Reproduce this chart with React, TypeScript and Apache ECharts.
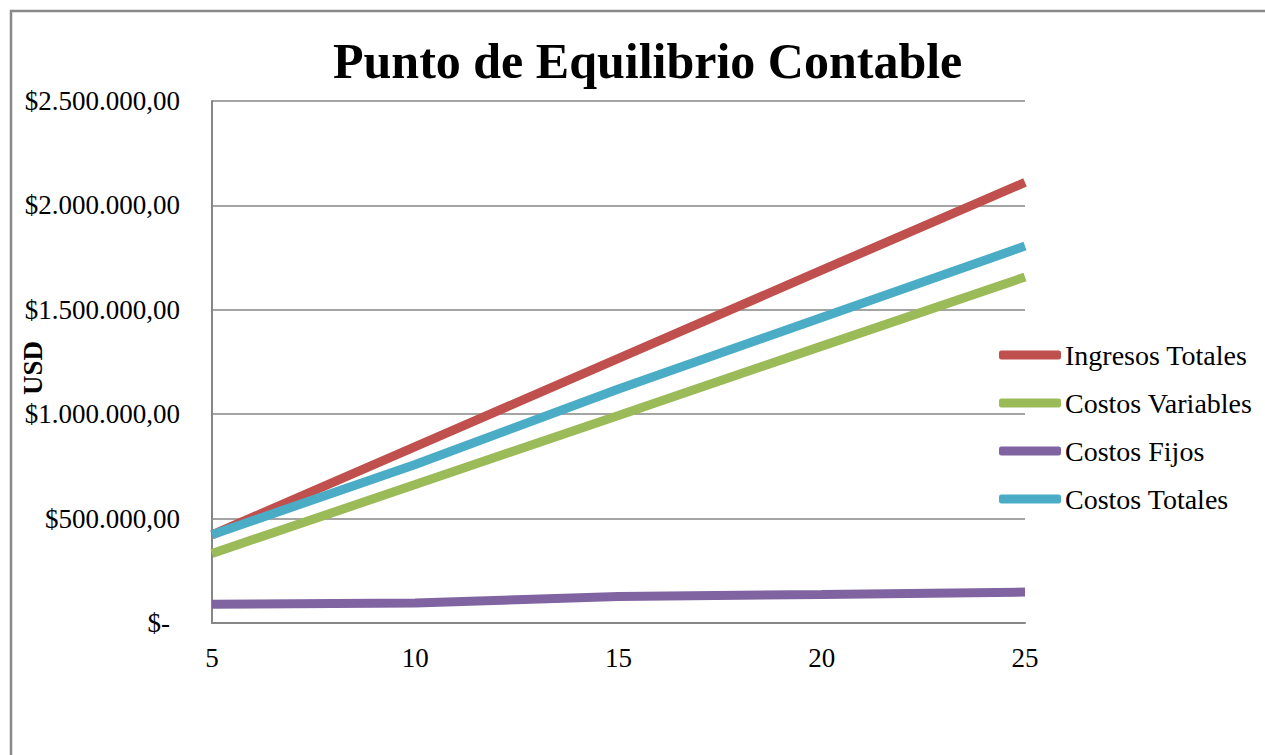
import React, { useEffect, useRef } from "react";
import * as echarts from "echarts";

const categories = ["5", "10", "15", "20", "25"];
const ingresosTotales = [422000, 845000, 1267000, 1690000, 2110000];
const costosVariables = [333000, 663000, 994000, 1326000, 1657000];
const costosFijos = [90000, 96000, 127000, 137000, 148000];
const costosTotales = [423000, 759000, 1121000, 1463000, 1805000];
const yTicks = [0, 500000, 1000000, 1500000, 2000000, 2500000];

const FONT = "Liberation Serif";
const FS = 27;

function fmt(v: number): string {
  if (v === 0) return "{z|$-}";
  const s = Math.round(v).toString().replace(/\B(?=(\d{3})+(?!\d))/g, ".");
  return "$" + s + ",00";
}

export default function App() {
  const ref = useRef<HTMLDivElement>(null);
  useEffect(() => {
    document.body.style.margin = "0";
    const chart = echarts.init(ref.current!, null, { renderer: "svg" });
    const lineSeries = (name: string, data: number[], color: string) => ({
      name,
      type: "line",
      data,
      symbol: "none",
      lineStyle: { width: 9, color, cap: "butt" },
      itemStyle: { color },
    });
    chart.setOption({
      animation: false,
      backgroundColor: "#ffffff",
      textStyle: { fontFamily: FONT },
      title: {
        text: "Punto de Equilibrio Contable",
        left: 328,
        top: 31,
        textStyle: { fontFamily: FONT, fontWeight: "bold", fontSize: 50, color: "#000" },
      },
      graphic: [
        {
          type: "rect",
          shape: { x: 11, y: 11, width: 1300, height: 800 },
          style: { fill: "none", stroke: "#898989", lineWidth: 2.5 },
          silent: true,
        },
        {
          type: "text",
          x: 33,
          y: 368,
          rotation: Math.PI / 2,
          style: {
            text: "USD",
            fontFamily: FONT,
            fontWeight: "bold",
            fontSize: 27,
            fill: "#000",
            align: "center",
            verticalAlign: "middle",
          },
        },
      ],
      legend: {
        orient: "vertical",
        left: 994,
        top: 336,
        itemWidth: 62,
        itemHeight: 9,
        itemGap: 20,
        icon: "roundRect",
        textStyle: { fontFamily: FONT, fontSize: 28, lineHeight: 28, color: "#000", padding: [0, 0, 0, -1] },
        data: ["Ingresos Totales", "Costos Variables", "Costos Fijos", "Costos Totales"],
      },
      grid: { left: 212, top: 101, right: 240, bottom: 132, containLabel: false },
      xAxis: {
        type: "category",
        data: categories,
        boundaryGap: false,
        axisLine: { lineStyle: { color: "#868686", width: 2 } },
        axisTick: { show: false },
        axisLabel: { fontFamily: FONT, fontSize: FS, color: "#000", margin: 21 },
      },
      yAxis: {
        type: "value",
        min: yTicks[0],
        max: yTicks[yTicks.length - 1],
        interval: 500000,
        axisLine: { show: true, lineStyle: { color: "#868686", width: 2 } },
        axisTick: { show: false },
        splitLine: { lineStyle: { color: "#868686", width: 1.5 } },
        axisLabel: {
          fontFamily: FONT,
          fontSize: FS,
          color: "#000",
          margin: 32,
          formatter: fmt,
          rich: { z: { fontFamily: FONT, fontSize: FS, color: "#000", padding: [0, 10, 0, 0] } },
        },
      },
      series: [
        lineSeries("Ingresos Totales", ingresosTotales, "#c0504d"),
        lineSeries("Costos Variables", costosVariables, "#9bbb59"),
        lineSeries("Costos Fijos", costosFijos, "#8064a2"),
        lineSeries("Costos Totales", costosTotales, "#4bacc6"),
      ],
    });
    return () => chart.dispose();
  }, []);
  return <div ref={ref} style={{ width: 1265, height: 755 }} />;
}
